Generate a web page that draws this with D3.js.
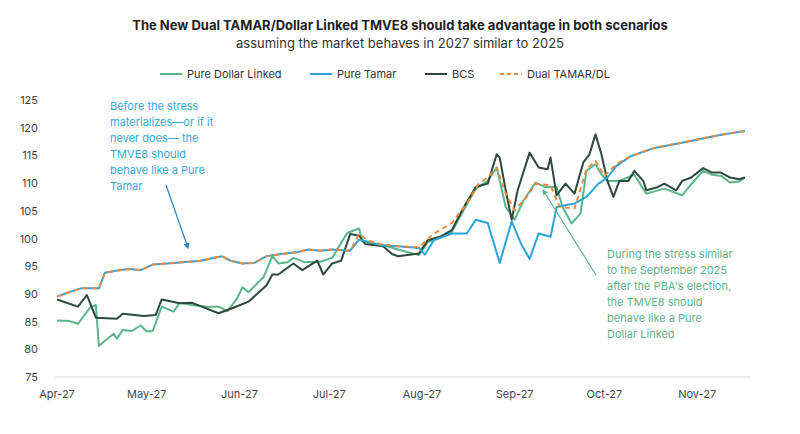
<!DOCTYPE html>
<html><head><meta charset="utf-8">
<script src="https://cdn.jsdelivr.net/npm/d3@7"></script>
<style>body{margin:0;background:#fff;font-family:Inter,"Open Sans",sans-serif}</style>
</head><body><svg id="c" width="800" height="434"></svg>
<script>
// day offsets from 1 Apr 2027 and index values
var dualDays = [0,4,8,14,16,20,24,28,32,37,44,48,55,58,62,66,70,75,80,84,88,92,98,101,104,108,114,121,126,132,137,141,144,147,150,153,157,160,165,168,173,177,180,183,187,192,200,209,217,223,230];
var dualVals = [89.5,90.3,91,91,93.8,94.2,94.5,94.3,95.3,95.5,95.8,96,96.8,96,95.5,95.6,96.8,97.2,97.5,98,97.8,98,97.8,100.8,99.6,99,98.6,98.4,100.9,102.8,106.3,109.9,111,112.8,108.1,105.1,107.5,109.9,109.6,105.7,105.4,112.5,114,111.3,113.4,114.9,116.4,117.3,118.2,118.8,119.4];

var tamarDays = [0,4,8,14,16,20,24,28,32,37,44,48,55,58,62,66,70,75,80,84,88,92,98,101,104,108,114,121,123,126,132,137,140,144,148,152,155,158,161,165,167,173,177,181,184,187,192,200,209,217,223,230];
var tamarVals = [89.5,90.3,91,91,93.8,94.2,94.5,94.3,95.3,95.5,95.8,96,96.8,96,95.5,95.6,96.8,97.2,97.5,98,97.8,98,97.8,99.8,99.4,98.8,98.6,98.3,97.1,99.7,100.9,100.9,103.4,102.8,95.6,103.1,99.2,96.3,100.9,100.3,105.7,106.3,107.5,109.9,111,113.1,114.9,116.4,117.3,118.2,118.8,119.4];

var bcsDays = [0,7,10,13,20,22,29,33,35,41,45,48,54,59,64,70,72,74,79,82,87,89,92,95,98,101,103,109,112,114,121,124,128,132,136,140,144,147,148,150,152,154,158,161,164,165,167,170,173,176,178,180,182,184,186,188,191,193,196,197,201,203,207,209,212,216,219,222,225,228,230];
var bcsVals = [89,87.7,89.8,85.7,85.5,86.4,86,86.2,89,88.3,88.4,87.8,86.5,87.5,88.6,91.5,93.5,93.5,95.5,94.3,96,93.5,95.5,96,100.8,100.5,99,98.6,97.2,96.8,97.3,99.7,100.3,101.5,105.7,109.3,109.9,115.2,114.6,108.7,103.4,108.7,115.5,112.8,112.5,114.6,107.8,109.9,108.1,113.8,115.2,118.8,115.2,110.4,107.5,110.4,110.4,112.2,110.4,108.7,109.3,109.9,108.7,110.4,111,112.7,111.9,111.9,111,110.7,111];

var pdlDays = [0,4,7,11,13,14,17,19,20,22,25,28,30,32,35,39,41,45,50,54,57,60,62,64,69,72,74,77,79,83,88,92,97,101,102,109,114,121,124,128,132,136,140,144,147,150,153,156,160,163,167,169,172,175,177,180,182,184,188,193,197,203,209,212,216,219,222,225,228,230];
var pdlVals = [85.2,85.1,84.6,87.5,88,80.6,82,82.8,81.9,83.5,83.3,84.3,83.2,83.3,87.7,86.8,88.4,88,87.7,87.7,86.9,89,91.2,90.3,93,96.8,95.5,95.7,96.5,95.7,95.8,96.5,101,101.8,99.5,98.8,98,97,99.4,100.1,101.2,105.2,109,110.4,112.8,105.7,103.4,106.9,110.1,109.3,109.3,105.7,102.7,104.5,112.2,113.4,111.6,110.4,110.4,111.5,108.1,109,107.8,109.8,112.2,111.5,111.3,110.1,110.3,111];

var yTicks = [75,80,85,90,95,100,105,110,115,120,125];
var monthLabels = ["Apr-27","May-27","Jun-27","Jul-27","Aug-27","Sep-27","Oct-27","Nov-27"];

var svg = d3.select("#c");
var t0 = new Date(2027, 3, 1);
var x = d3.scaleTime().domain([t0, d3.timeDay.offset(t0, 232)]).range([57, 751]);
var y = d3.scaleLinear().domain([75, 125]).range([377, 100]);
function day(d) { return d3.timeDay.offset(t0, d); }

// title
svg.append("text").attr("x", 400).attr("y", 30).attr("text-anchor", "middle")
  .attr("font-size", 13).attr("font-weight", "bold").attr("fill", "#222")
  .text("The New Dual TAMAR/Dollar Linked TMVE8 should take advantage in both scenarios");
svg.append("text").attr("x", 400).attr("y", 48).attr("text-anchor", "middle")
  .attr("font-size", 13).attr("fill", "#333")
  .text("assuming the market behaves in 2027 similar to 2025");

// axes
svg.append("line").attr("x1", 55).attr("x2", 751).attr("y1", y(75)).attr("y2", y(75)).attr("stroke", "#d9d9d9");
svg.selectAll(".yt").data(yTicks).enter().append("text")
  .attr("x", 38).attr("y", d => y(d) + 4).attr("text-anchor", "end")
  .attr("font-size", 11).attr("fill", "#444").text(d => d);
svg.selectAll(".xt").data(monthLabels).enter().append("text")
  .attr("x", (d, i) => x(new Date(2027, 3 + i, 1))).attr("y", 398)
  .attr("text-anchor", "middle").attr("font-size", 11).attr("fill", "#444").text(d => d);

var line = d3.line().x(d => x(day(d[0]))).y(d => y(d[1]));
function draw(days, vals, color, dash) {
  svg.append("path").datum(d3.zip(days, vals)).attr("d", line)
    .attr("fill", "none").attr("stroke", color).attr("stroke-width", 2)
    .attr("stroke-dasharray", dash || null).attr("stroke-linejoin", "round");
}
draw(pdlDays, pdlVals, "#5bb58a");
draw(bcsDays, bcsVals, "#2b4a3b");
draw(tamarDays, tamarVals, "#2aa4dc");
draw(dualDays, dualVals, "#f0873a", "5,4");

// legend
var legend = [["Pure Dollar Linked", "#5bb58a", null, 160], ["Pure Tamar", "#2aa4dc", null, 310], ["BCS", "#2b4a3b", null, 425], ["Dual TAMAR/DL", "#f0873a", "4,3", 500]];
legend.forEach(function (l) {
  svg.append("line").attr("x1", l[3]).attr("x2", l[3] + 22).attr("y1", 74).attr("y2", 74)
    .attr("stroke", l[1]).attr("stroke-width", 2).attr("stroke-dasharray", l[2]);
  svg.append("text").attr("x", l[3] + 27).attr("y", 78).attr("font-size", 11).attr("fill", "#333").text(l[0]);
});

// annotations
var a1 = ["Before the stress", "materializes\u2014or if it", "never does\u2014 the", "TMVE8 should", "behave like a Pure", "Tamar"];
svg.append("g").selectAll("text").data(a1).enter().append("text")
  .attr("x", 110).attr("y", (d, i) => 110 + i * 16).attr("font-size", 11).attr("fill", "#35a8d8").text(d => d);
var a2 = ["During the stress similar", "to the September 2025", "after the PBA's election,", "the TMVE8 should", "behave like a Pure", "Dollar Linked"];
svg.append("g").selectAll("text").data(a2).enter().append("text")
  .attr("x", 607).attr("y", (d, i) => 258 + i * 16).attr("font-size", 11).attr("fill", "#5bb58a").text(d => d);

svg.append("defs").html('<marker id="mb" viewBox="0 0 10 10" refX="8" refY="5" markerWidth="5" markerHeight="5" orient="auto"><path d="M0,0L10,5L0,10z" fill="#2a86b8"/></marker>' +
  '<marker id="mg" viewBox="0 0 10 10" refX="8" refY="5" markerWidth="5" markerHeight="5" orient="auto"><path d="M0,0L10,5L0,10z" fill="#5bb58a"/></marker>');
svg.append("line").attr("x1", 166).attr("y1", 185).attr("x2", 188).attr("y2", 248)
  .attr("stroke", "#2a86b8").attr("stroke-width", 1.2).attr("marker-end", "url(#mb)");
svg.append("line").attr("x1", 596).attr("y1", 275).attr("x2", 543).attr("y2", 190)
  .attr("stroke", "#5bb58a").attr("stroke-width", 1.2).attr("marker-end", "url(#mg)");
</script></body></html>
